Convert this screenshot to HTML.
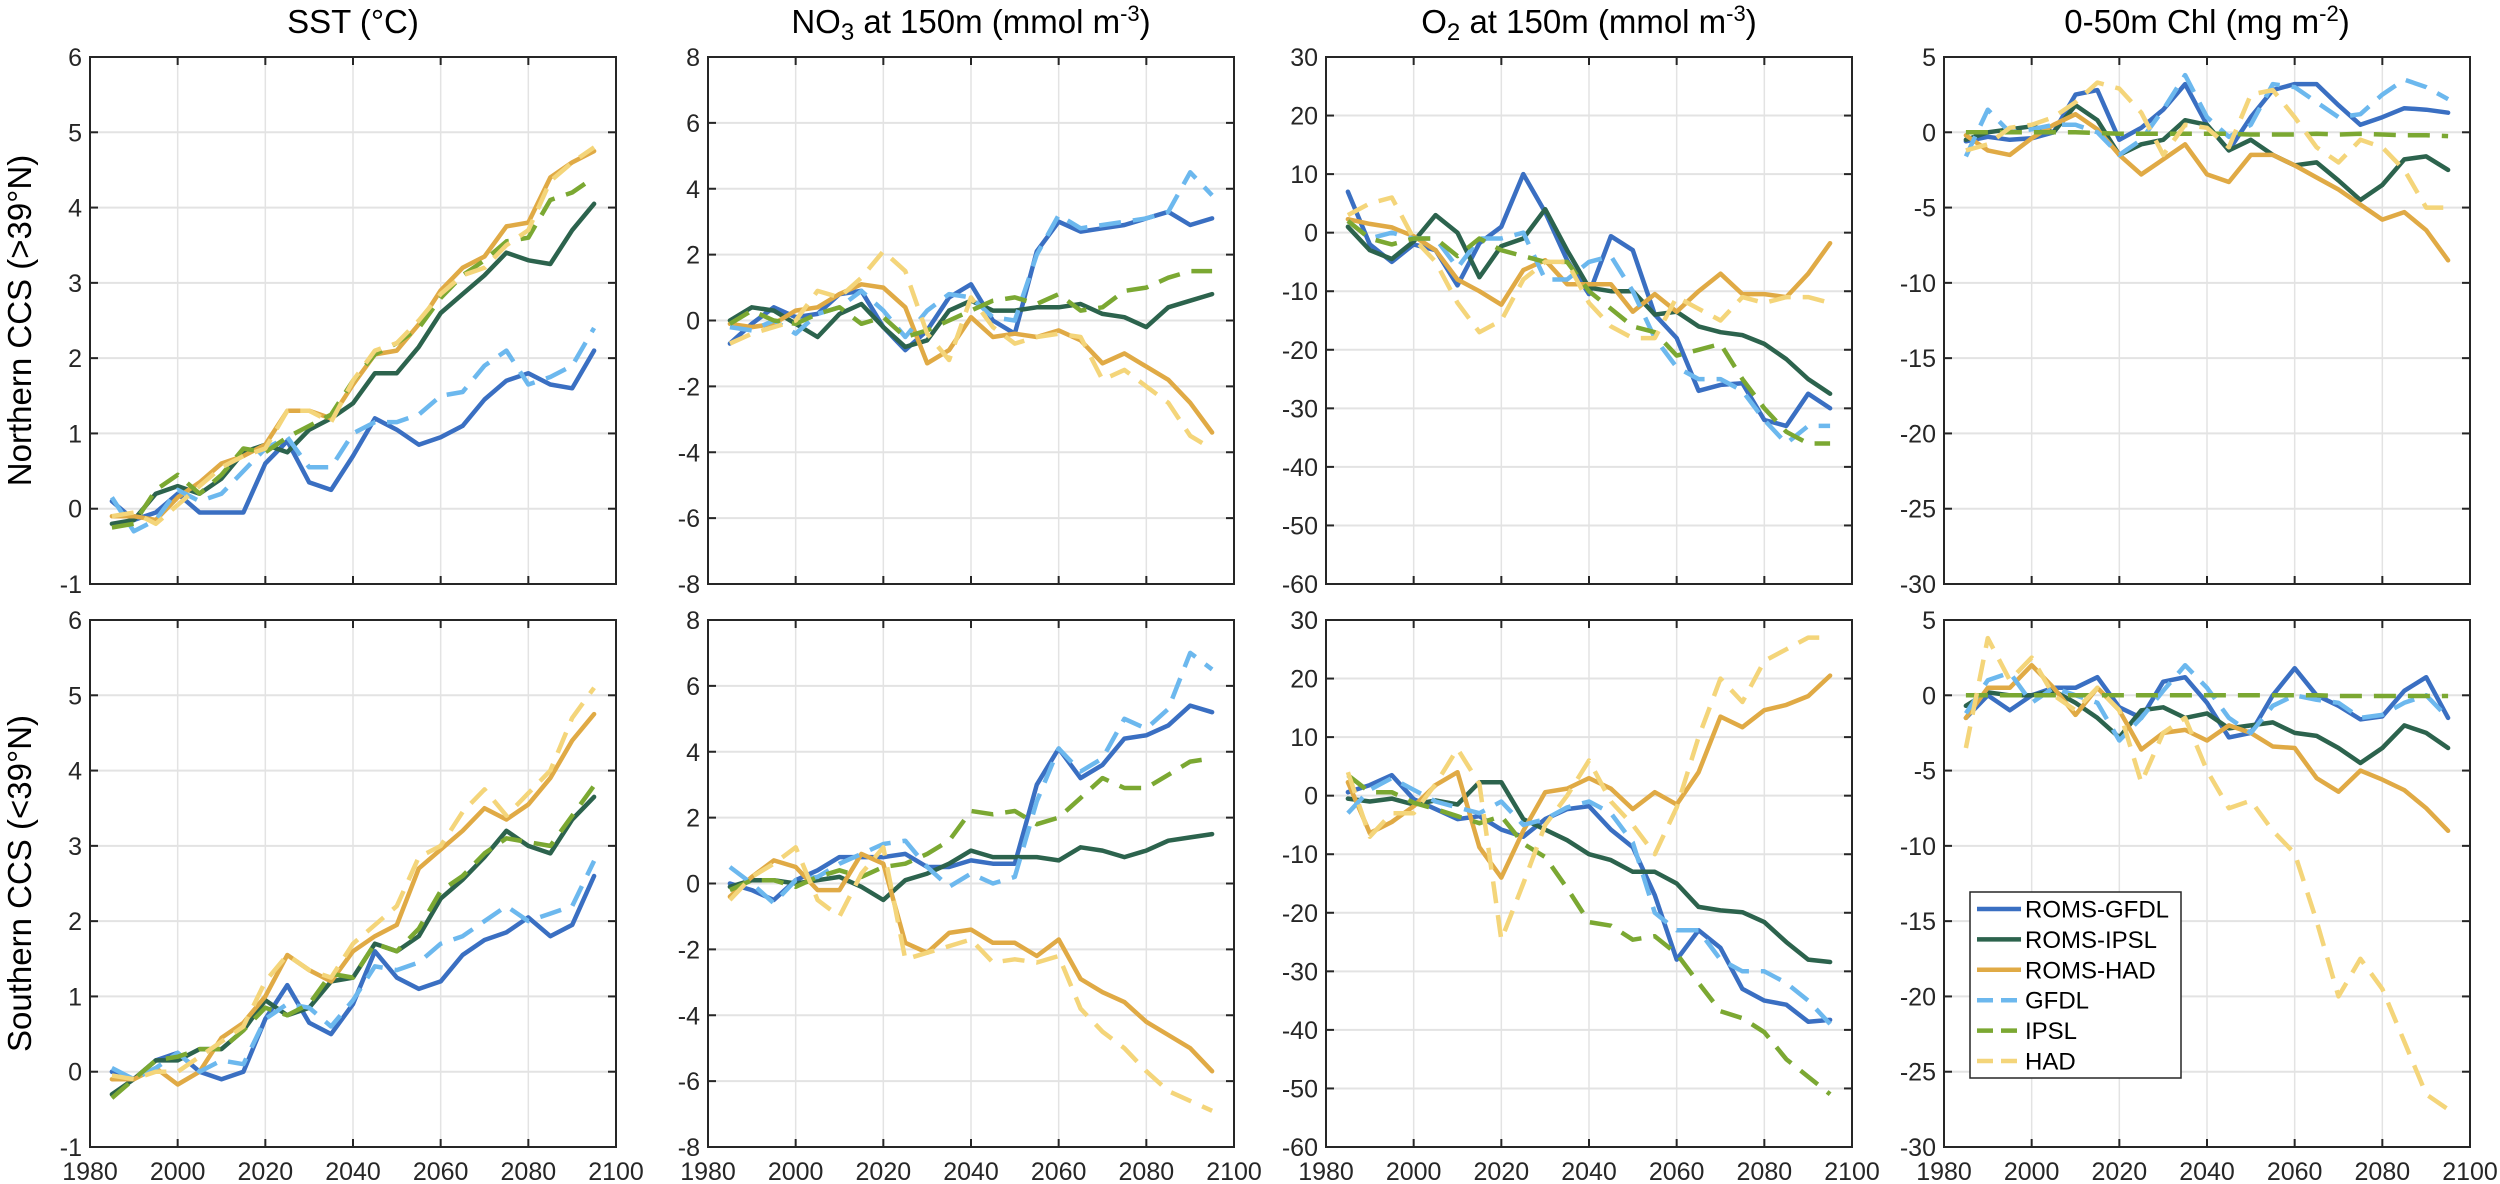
<!DOCTYPE html>
<html><head><meta charset="utf-8"><style>
body{margin:0;background:#fff}
svg{display:block;font-family:"Liberation Sans",Arial,sans-serif}
</style></head><body>
<svg id="fig" width="2500" height="1184" viewBox="0 0 2500 1184" xmlns="http://www.w3.org/2000/svg">
<rect width="2500" height="1184" fill="#fff"/>
</svg>
<script>
const years=[1985,1990,1995,2000,2005,2010,2015,2020,2025,2030,2035,2040,2045,2050,2055,2060,2065,2070,2075,2080,2085,2090,2095];
const seriesNames=["ROMS-GFDL","ROMS-IPSL","ROMS-HAD","GFDL","IPSL","HAD"];
const xTicks=[1980,2000,2020,2040,2060,2080,2100];
const yTicksSST=[-1,0,1,2,3,4,5,6];
const yTicksNO3=[-8,-6,-4,-2,0,2,4,6,8];
const yTicksO2=[-60,-50,-40,-30,-20,-10,0,10,20,30];
const yTicksChl=[-30,-25,-20,-15,-10,-5,0,5];
// North SST
const sstN_romsGfdl=[0.1,-0.15,-0.05,0.2,-0.05,-0.05,-0.05,0.6,0.9,0.35,0.25,0.7,1.2,1.05,0.85,0.95,1.1,1.45,1.7,1.8,1.65,1.6,2.1];
const sstN_romsIpsl=[-0.2,-0.15,0.2,0.3,0.2,0.4,0.75,0.85,0.75,1.05,1.2,1.4,1.8,1.8,2.15,2.6,2.85,3.1,3.4,3.3,3.25,3.7,4.05];
const sstN_romsHad=[-0.1,-0.1,-0.15,0.15,0.35,0.6,0.7,0.85,1.3,1.3,1.2,1.65,2.05,2.1,2.45,2.9,3.2,3.35,3.75,3.8,4.4,4.6,4.75];
const sstN_gfdl=[0.15,-0.3,-0.15,0.25,0.1,0.2,0.5,0.8,0.95,0.55,0.55,1.0,1.15,1.15,1.25,1.5,1.55,1.9,2.1,1.65,1.75,1.9,2.4];
const sstN_ipsl=[-0.25,-0.2,0.25,0.45,0.2,0.45,0.8,0.75,0.95,1.1,1.25,1.7,2.05,2.2,2.4,2.8,3.1,3.3,3.55,3.6,4.1,4.2,4.4];
const sstN_had=[-0.1,-0.05,-0.2,0.05,0.3,0.55,0.7,0.8,1.3,1.3,1.15,1.7,2.1,2.2,2.5,2.85,3.1,3.2,3.5,3.7,4.35,4.6,4.8];
// North NO3
const no3N_romsGfdl=[-0.7,-0.1,0.4,0.1,0.2,0.8,0.9,-0.2,-0.9,-0.3,0.7,1.1,0.0,-0.4,2.1,3.0,2.7,2.8,2.9,3.1,3.3,2.9,3.1];
const no3N_romsIpsl=[0.0,0.4,0.3,-0.1,-0.5,0.2,0.5,-0.2,-0.8,-0.6,0.3,0.6,0.3,0.3,0.4,0.4,0.5,0.2,0.1,-0.2,0.4,0.6,0.8];
const no3N_romsHad=[-0.1,-0.2,-0.1,0.3,0.4,0.8,1.1,1.0,0.4,-1.3,-0.9,0.1,-0.5,-0.4,-0.5,-0.3,-0.6,-1.3,-1.0,-1.4,-1.8,-2.5,-3.4];
const no3N_gfdl=[-0.2,-0.3,0.0,-0.4,0.2,0.4,0.9,0.3,-0.5,0.3,0.8,0.7,0.1,0.0,2.0,3.2,2.8,2.9,3.0,3.1,3.3,4.5,3.8];
const no3N_ipsl=[-0.1,0.3,0.0,-0.1,0.2,0.4,-0.1,0.1,-0.5,-0.3,0.0,0.3,0.6,0.7,0.5,0.8,0.3,0.4,0.9,1.0,1.3,1.5,1.5];
const no3N_had=[-0.7,-0.4,-0.2,0.0,0.9,0.7,1.3,2.1,1.5,-0.4,-1.2,0.7,-0.2,-0.7,-0.5,-0.4,-0.5,-1.8,-1.5,-2.0,-2.5,-3.5,-3.9];
// North O2
const o2N_romsGfdl=[7,-2,-5,-2,-3,-9,-1.8,1,10,3.5,-4.7,-10.5,-0.6,-3,-14,-18,-27,-26,-25.7,-32,-33,-27.5,-30];
const o2N_romsIpsl=[1,-3,-4.5,-1.5,3,0,-7.6,-2.3,-1,4,-3,-9.4,-10,-10,-14,-13.5,-16,-17,-17.5,-19,-21.6,-25,-27.5];
const o2N_romsHad=[2.3,1.5,0.9,-0.6,-3,-8,-10,-12.3,-6.4,-4.7,-8.8,-8.8,-8.8,-13.5,-10.5,-13.5,-10,-7,-10.5,-10.5,-11,-7,-1.8];
const o2N_gfdl=[2,-1,0,-1,-1,-6,-1,-1,0,-8,-8,-5,-4,-10,-18,-23,-25,-25,-27,-32,-36,-33,-33];
const o2N_ipsl=[2,-1,-2,-1,-1,-4,-1,-3,-4,-5,-5,-10,-13,-16,-17,-21,-20,-19,-25,-30,-34,-36,-36];
const o2N_had=[3,5,6,-1,-5,-12,-17,-15,-8,-5,-5,-12,-16,-18,-18,-11,-13,-15,-11,-12,-11,-11,-12];
// North Chl
const chlN_romsGfdl=[-0.6,-0.3,-0.5,-0.4,0.0,2.5,2.8,-0.5,0.3,1.5,3.2,0.5,-1.2,1.0,2.8,3.2,3.2,1.8,0.5,1.0,1.6,1.5,1.3];
const chlN_romsIpsl=[-0.5,0.0,0.2,0.4,0.0,1.8,0.8,-1.5,-0.8,-0.5,0.8,0.5,-1.2,-0.5,-1.5,-2.2,-2.0,-3.2,-4.5,-3.5,-1.8,-1.6,-2.5];
const chlN_romsHad=[-0.2,-1.2,-1.5,-0.4,0.5,1.2,0.2,-1.5,-2.8,-1.8,-0.8,-2.8,-3.3,-1.5,-1.5,-2.2,-3.0,-3.8,-4.8,-5.8,-5.3,-6.5,-8.5];
const chlN_gfdl=[-1.6,1.5,0.0,0.2,0.5,0.5,0.0,-1.5,-0.5,1.5,3.8,1.0,-0.3,0.5,3.2,3.0,2.0,1.0,1.2,2.5,3.5,3.0,2.2];
const chlN_ipsl=[0,0,0,0,0,0,-0.05,-0.1,-0.1,-0.1,-0.1,-0.1,-0.1,-0.15,-0.15,-0.15,-0.1,-0.15,-0.1,-0.15,-0.2,-0.2,-0.25];
const chlN_had=[-1.2,-0.8,0.3,0.5,1.0,2.0,3.3,2.9,1.3,-1.5,0.5,0.3,-1.0,2.5,2.8,1.0,-1.0,-2.0,-0.5,-1.0,-2.5,-5.0,-5.0];
// South SST
const sstS_romsGfdl=[0,-0.1,0.15,0.25,0.0,-0.1,0.0,0.7,1.15,0.65,0.5,0.9,1.6,1.25,1.1,1.2,1.55,1.75,1.85,2.05,1.8,1.95,2.6];
const sstS_romsIpsl=[-0.3,-0.1,0.15,0.15,0.3,0.3,0.55,0.95,0.75,0.85,1.2,1.25,1.7,1.6,1.8,2.3,2.55,2.85,3.2,3.0,2.9,3.35,3.65];
const sstS_romsHad=[-0.1,-0.1,0.05,-0.17,0.0,0.45,0.65,1.0,1.55,1.35,1.2,1.6,1.8,1.95,2.7,2.95,3.2,3.5,3.35,3.55,3.9,4.4,4.75];
const sstS_gfdl=[0.05,-0.1,0.05,0.25,0.0,0.15,0.1,0.7,0.9,0.85,0.6,0.95,1.4,1.35,1.45,1.7,1.8,2.0,2.2,2.0,2.1,2.2,2.8];
const sstS_ipsl=[-0.35,-0.1,0.15,0.2,0.3,0.3,0.55,0.85,0.75,0.9,1.3,1.25,1.7,1.6,1.9,2.4,2.6,2.9,3.1,3.05,3.0,3.4,3.8];
const sstS_had=[-0.05,-0.1,0.0,0.0,0.2,0.4,0.6,1.2,1.55,1.35,1.25,1.7,1.95,2.2,2.85,3.0,3.45,3.75,3.4,3.7,4.0,4.7,5.1];
// South NO3
const no3S_romsGfdl=[0.0,-0.2,-0.5,0.1,0.4,0.8,0.8,0.8,0.9,0.5,0.5,0.7,0.6,0.6,3.0,4.1,3.2,3.6,4.4,4.5,4.8,5.4,5.2];
const no3S_romsIpsl=[-0.1,0.1,0.1,0.0,0.1,0.2,-0.1,-0.5,0.1,0.3,0.6,1.0,0.8,0.8,0.8,0.7,1.1,1.0,0.8,1.0,1.3,1.4,1.5];
const no3S_romsHad=[-0.4,0.2,0.7,0.5,-0.2,-0.2,0.9,0.6,-1.8,-2.1,-1.5,-1.4,-1.8,-1.8,-2.2,-1.7,-2.9,-3.3,-3.6,-4.2,-4.6,-5.0,-5.7];
const no3S_gfdl=[0.5,0.0,-0.6,0.1,0.2,0.6,0.9,1.2,1.3,0.5,-0.1,0.3,0.0,0.2,2.5,4.1,3.4,3.8,5.0,4.7,5.3,7.0,6.5];
const no3S_ipsl=[-0.2,0.1,0.1,-0.1,0.2,0.4,0.2,0.5,0.6,0.9,1.3,2.2,2.1,2.2,1.8,2.0,2.6,3.2,2.9,2.9,3.3,3.7,3.8];
const no3S_had=[-0.5,0.2,0.6,1.1,-0.5,-1.0,0.3,1.1,-2.3,-2.1,-1.9,-1.7,-2.4,-2.3,-2.4,-2.2,-3.8,-4.5,-5.0,-5.7,-6.3,-6.6,-6.9];
// South O2
const o2S_romsGfdl=[0.6,1.8,3.5,-0.6,-2.3,-4,-3.5,-5.8,-7,-4,-2.3,-1.8,-5.8,-8.8,-17,-28,-23,-26,-33,-35,-35.7,-38.6,-38.3];
const o2S_romsIpsl=[-0.5,-1,-0.5,-1.5,-0.8,-1.5,2.3,2.3,-4,-5.8,-7.6,-10,-11,-13,-13,-15,-19,-19.6,-19.9,-21.6,-25,-28,-28.4];
const o2S_romsHad=[2.3,-6.4,-4.5,-1.8,1.8,4,-8.8,-14,-6,0.6,1.2,3,1.2,-2.3,0.6,-1.5,4,13.5,11.7,14.6,15.5,17,20.5];
const o2S_gfdl=[-3,1,3,1,-1,-2,-3,-1,-5,-4,-2,-1,-3,-8,-20,-23,-23,-28,-30,-30,-32,-35,-39];
const o2S_ipsl=[3.5,0.6,0.6,-1.2,-2.3,-3.5,-4.7,-3.5,-8.2,-10.5,-15.8,-21.6,-22.2,-24.6,-24,-27,-32,-36.8,-38,-40.4,-45,-48,-51];
const o2S_had=[4,-7,-3,-3,2,8,2,-24.6,-15,-5,0,6,-1,-5,-10,-2,10,20,16,23,25,27,27];
// South Chl
const chlS_romsGfdl=[-1.5,0,-1,0,0.5,0.5,1.2,-0.8,-1.5,0.9,1.2,-0.5,-2.8,-2.5,0,1.8,0,-0.7,-1.6,-1.4,0.3,1.2,-1.5];
const chlS_romsIpsl=[-0.7,0.2,0,0,0.3,-0.5,-1.5,-2.8,-1.0,-0.8,-1.5,-1.2,-2.2,-2.0,-1.8,-2.5,-2.7,-3.5,-4.5,-3.5,-2.0,-2.5,-3.5];
const chlS_romsHad=[-1.5,0.5,0.5,2.0,0.5,-1.3,0.5,-1.0,-3.6,-2.5,-2.3,-3.0,-2.0,-2.5,-3.4,-3.5,-5.5,-6.4,-5.0,-5.6,-6.3,-7.5,-9.0];
const chlS_gfdl=[-1.2,1.0,1.5,-0.5,0.5,0.0,-0.5,-3.0,-1.5,0.3,2.0,0.5,-1.5,-2.5,-0.7,0.0,-0.3,-0.5,-1.5,-1.3,-0.5,0.0,-1.5];
const chlS_ipsl=[0,0,0,0,0,0,0,0,0,0,0,0,0,0,0,0,0,-0.05,-0.05,-0.05,-0.05,-0.05,-0.05];
const chlS_had=[-3.5,3.8,1.0,2.5,0.0,-1.0,0.5,-1.0,-5.8,-2.5,-1.5,-5.0,-7.5,-7.0,-9.0,-10.5,-15.0,-20.0,-17.5,-19.5,-23.0,-26.5,-27.5];

const NS='http://www.w3.org/2000/svg';
const svg=document.getElementById('fig');
const colors=["#3a6fc2","#2c634d","#e0aa45","#6cb8ee","#7ba832","#f4d57a"];
const dashed=[false,false,false,true,true,true];
const colLeft=[90,708,1326,1944], rowTop=[57,620], PW=526, PH=527;
function mk(tag,attrs,parent){const e=document.createElementNS(NS,tag);for(const k in attrs)e.setAttribute(k,attrs[k]);(parent||svg).appendChild(e);return e;}

const panels=[
 {r:0,c:0,name:'sst-north',ticks:yTicksSST,s:[sstN_romsGfdl,sstN_romsIpsl,sstN_romsHad,sstN_gfdl,sstN_ipsl,sstN_had]},
 {r:0,c:1,name:'no3-north',ticks:yTicksNO3,s:[no3N_romsGfdl,no3N_romsIpsl,no3N_romsHad,no3N_gfdl,no3N_ipsl,no3N_had]},
 {r:0,c:2,name:'o2-north',ticks:yTicksO2,s:[o2N_romsGfdl,o2N_romsIpsl,o2N_romsHad,o2N_gfdl,o2N_ipsl,o2N_had]},
 {r:0,c:3,name:'chl-north',ticks:yTicksChl,s:[chlN_romsGfdl,chlN_romsIpsl,chlN_romsHad,chlN_gfdl,chlN_ipsl,chlN_had]},
 {r:1,c:0,name:'sst-south',ticks:yTicksSST,s:[sstS_romsGfdl,sstS_romsIpsl,sstS_romsHad,sstS_gfdl,sstS_ipsl,sstS_had]},
 {r:1,c:1,name:'no3-south',ticks:yTicksNO3,s:[no3S_romsGfdl,no3S_romsIpsl,no3S_romsHad,no3S_gfdl,no3S_ipsl,no3S_had]},
 {r:1,c:2,name:'o2-south',ticks:yTicksO2,s:[o2S_romsGfdl,o2S_romsIpsl,o2S_romsHad,o2S_gfdl,o2S_ipsl,o2S_had]},
 {r:1,c:3,name:'chl-south',ticks:yTicksChl,s:[chlS_romsGfdl,chlS_romsIpsl,chlS_romsHad,chlS_gfdl,chlS_ipsl,chlS_had]}
];

panels.forEach(p=>{
  const L=colLeft[p.c], T=rowTop[p.r];
  const ymin=p.ticks[0], ymax=p.ticks[p.ticks.length-1];
  const xs=v=>L+(v-1980)/120*PW;
  const ys=v=>T+PH-(v-ymin)/(ymax-ymin)*PH;
  const g=mk('g',{});
  
  
  // grid
  xTicks.forEach(t=>{ if(t>1980&&t<2100){const l=mk('line',{x1:xs(t),x2:xs(t),y1:T,y2:T+PH,stroke:'#e3e3e3','stroke-width':1.5},g);}});
  p.ticks.forEach(t=>{ if(t>ymin&&t<ymax){const l=mk('line',{x1:L,x2:L+PW,y1:ys(t),y2:ys(t),stroke:'#e3e3e3','stroke-width':2},g);}});
  // series
  p.s.forEach((arr,i)=>{
    const pts=arr.map((v,j)=>xs(years[j]).toFixed(1)+','+ys(v).toFixed(1)).join(' ');
    const pl=mk('polyline',{points:pts,fill:'none',stroke:colors[i],'stroke-width':4.5,'stroke-linejoin':'round','stroke-linecap':dashed[i]?'butt':'round'},g);
    if(dashed[i]) pl.setAttribute('stroke-dasharray','22 12');
    
    
  });
  // ticks
  xTicks.forEach(t=>{
    mk('line',{x1:xs(t),x2:xs(t),y1:T+PH,y2:T+PH-8,stroke:'#262626','stroke-width':2},g);
    mk('line',{x1:xs(t),x2:xs(t),y1:T,y2:T+8,stroke:'#262626','stroke-width':2},g);
    if(p.r===1){const tx=mk('text',{x:xs(t),y:T+PH+33,'font-size':25,'text-anchor':'middle',fill:'#262626'},g);tx.textContent=t;}
  });
  p.ticks.forEach(t=>{
    mk('line',{x1:L,x2:L+8,y1:ys(t),y2:ys(t),stroke:'#262626','stroke-width':2},g);
    mk('line',{x1:L+PW,x2:L+PW-8,y1:ys(t),y2:ys(t),stroke:'#262626','stroke-width':2},g);
    const tx=mk('text',{x:L-8,y:ys(t)+9,'font-size':25,'text-anchor':'end',fill:'#262626'},g);
    tx.textContent=t;
    
    
  });
  const box=mk('rect',{x:L,y:T,width:PW,height:PH,fill:'none',stroke:'#262626','stroke-width':2},g);
  
  
});

// column titles
const titles=[
 ['SST (°C)'],
 ['NO<tspan dy="7" font-size="24">3</tspan><tspan dy="-7"> at 150m (mmol m</tspan><tspan dy="-12" font-size="22">-3</tspan><tspan dy="12">)</tspan>'],
 ['O<tspan dy="7" font-size="24">2</tspan><tspan dy="-7"> at 150m (mmol m</tspan><tspan dy="-12" font-size="22">-3</tspan><tspan dy="12">)</tspan>'],
 ['0-50m Chl (mg m<tspan dy="-12" font-size="22">-2</tspan><tspan dy="12">)</tspan>']
];
titles.forEach((t,i)=>{
  const tx=mk('text',{x:colLeft[i]+PW/2,y:33,'font-size':33,'text-anchor':'middle',fill:'#000'});
  tx.innerHTML=t[0];
  
  
});
// row labels
[['Northern CCS (>39°N)',rowTop[0]+PH/2],['Southern CCS (<39°N)',rowTop[1]+PH/2]].forEach(r=>{
  const tx=mk('text',{transform:'translate(31,'+r[1]+') rotate(-90)','font-size':33,'text-anchor':'middle',fill:'#000'});
  tx.textContent=r[0];
  
  
});
// legend
const lg=mk('g',{});


mk('rect',{x:1970,y:892,width:211,height:186,fill:'#fff',stroke:'#262626','stroke-width':1.5},lg);
seriesNames.forEach((n,i)=>{
  const y=909+30.4*i;
  const e=mk('g',{},lg);
  
  
  const l=mk('line',{x1:1977,x2:2021,y1:y,y2:y,stroke:colors[i],'stroke-width':4.5},e);
  if(dashed[i]) l.setAttribute('stroke-dasharray','16 8');
  const tx=mk('text',{x:2025,y:y+8.5,'font-size':24,fill:'#000'},e);
  tx.textContent=n;
});
</script>
</body></html>
